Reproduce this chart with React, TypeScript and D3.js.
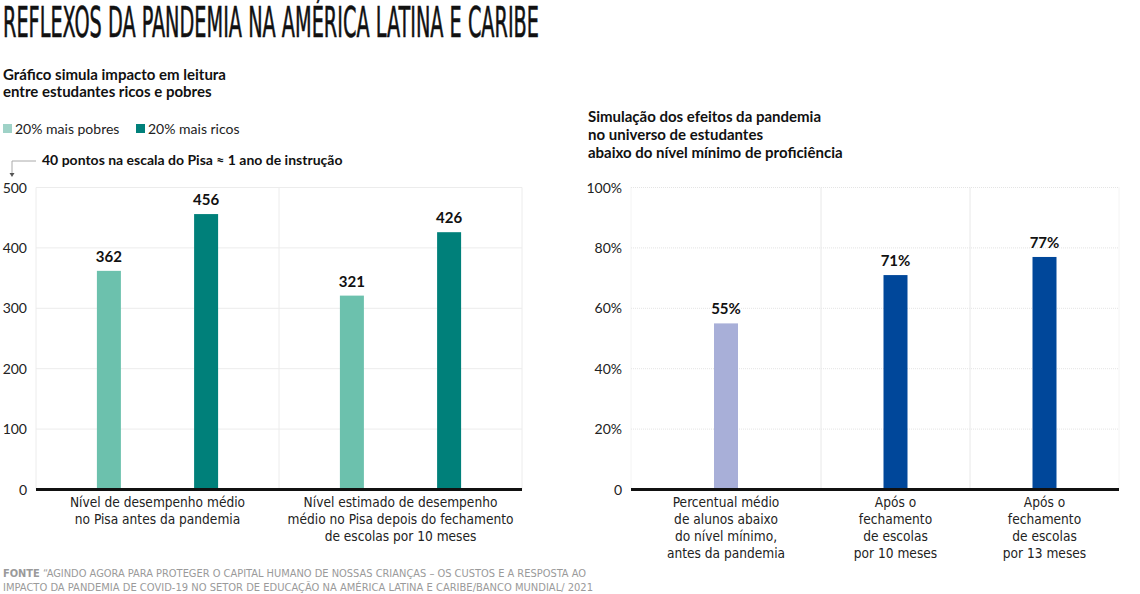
import React from "react";
import * as d3 from "d3";

const leftCategories = [
  ["Nível de desempenho médio", "no Pisa antes da pandemia"],
  ["Nível estimado de desempenho", "médio no Pisa depois do fechamento", "de escolas por 10 meses"],
];
const seriesNames = ["20% mais pobres", "20% mais ricos"];
const poorValues = [362, 321];
const richValues = [456, 426];
const leftTicks = [0, 100, 200, 300, 400, 500];

const rightCategories = [
  ["Percentual médio", "de alunos abaixo", "do nível mínimo,", "antes da pandemia"],
  ["Após o", "fechamento", "de escolas", "por 10 meses"],
  ["Após o", "fechamento", "de escolas", "por 13 meses"],
];
const rightValues = [55, 71, 77];
const rightTicks = [0, 20, 40, 60, 80, 100];

const C_POOR = "#6cc1ad";
const C_RICH = "#00807a";
const C_BEFORE = "#a8afd8";
const C_AFTER = "#00479a";

const SANS = "Lato, 'Open Sans', sans-serif";
const COND = "'DejaVu Sans Condensed', 'Liberation Sans Narrow', sans-serif";

export default function App() {
  const W = 1140, H = 594;
  const yBase = 489.5, yTop = 187.5;

  // Left chart
  const lx0 = 36, lx1 = 522;
  const yL = d3.scaleLinear().domain([0, 500]).range([yBase, yTop]);
  const xL = d3.scaleBand<number>().domain(d3.range(leftCategories.length)).range([lx0, lx1]);
  const inner = d3.scaleLinear().domain([0, 1]).range([0.3, 0.7]);
  const barW = 24;

  // Right chart
  const xR = d3.scaleLinear().domain([0, 1, 2, 3]).range([631, 821, 970, 1119]);
  const yR = d3.scaleLinear().domain([0, 100]).range([yBase, yTop]);

  const lblStyle = { fontFamily: COND, fontSize: 13.6, fill: "#222" } as const;

  return (
    <svg width={W} height={H} style={{ position: "absolute", left: 0, top: 0, background: "#fff" }}>
      <text x={3} y={37} fontFamily={COND} fontWeight={400} fontSize={42} fill="#111"
        stroke="#111" strokeWidth={0.6}
        textLength={536} lengthAdjust="spacingAndGlyphs">
        REFLEXOS DA PANDEMIA NA AMÉRICA LATINA E CARIBE
      </text>

      {/* Left subtitle */}
      <text fontFamily={SANS} fontWeight={700} fontSize={15} fill="#111">
        <tspan x={3} y={80}>Gráfico simula impacto em leitura</tspan>
        <tspan x={3} y={97}>entre estudantes ricos e pobres</tspan>
      </text>

      {/* Legend */}
      {seriesNames.map((s, i) => {
        const x = i === 0 ? 3 : 136;
        return (
          <g key={s}>
            <rect x={x} y={124} width={9} height={9} fill={i === 0 ? "#9fd2c7" : C_RICH} />
            <text x={x + 12} y={133.5} fontFamily={SANS} fontSize={14} fill="#222">{s}</text>
          </g>
        );
      })}

      {/* Annotation */}
      <path d="M36,161 H12 V175" fill="none" stroke="#aaa" strokeWidth={1} />
      <path d="M9.5,173 L12,177 L14.5,173 Z" fill="#555" />
      <text x={42} y={165} fontFamily={SANS} fontWeight={700} fontSize={14} fill="#111">
        40 pontos na escala do Pisa ≈ 1 ano de instrução
      </text>

      {/* Left grid */}
      {leftTicks.filter(t => t > 0).map(t => (
        <line key={t} x1={lx0} x2={lx1} y1={yL(t)} y2={yL(t)} stroke="#ececec" />
      ))}
      {[lx0, lx0 + xL.bandwidth(), lx1].map((x, i) => (
        <line key={i} x1={x} x2={x} y1={yTop} y2={yBase} stroke="#ececec" />
      ))}
      {leftTicks.map(t => (
        <text key={t} x={27} y={yL(t) + 5} textAnchor="end" fontFamily={SANS} fontSize={14} fill="#222">{t}</text>
      ))}

      {/* Left bars */}
      {leftCategories.map((cat, i) => {
        const bx = xL(i)!;
        const bw = xL.bandwidth();
        return (
          <g key={i}>
            {[poorValues[i], richValues[i]].map((v, j) => {
              const cx = bx + inner(j) * bw;
              return (
                <g key={j}>
                  <rect x={cx - barW / 2} y={yL(v)} width={barW} height={yBase - yL(v)} fill={j === 0 ? C_POOR : C_RICH} />
                  <text x={cx} y={yL(v) - 9} textAnchor="middle" fontFamily={SANS} fontWeight={700} fontSize={15} fill="#111">{v}</text>
                </g>
              );
            })}
            <text textAnchor="middle" {...lblStyle}>
              {cat.map((l, k) => (
                <tspan key={k} x={bx + bw / 2} y={507 + k * 17}>{l}</tspan>
              ))}
            </text>
          </g>
        );
      })}
      <line x1={lx0} x2={lx1} y1={yBase} y2={yBase} stroke="#111" strokeWidth={3} />

      {/* Right subtitle */}
      <text fontFamily={SANS} fontWeight={700} fontSize={15} fill="#111">
        <tspan x={588} y={122}>Simulação dos efeitos da pandemia</tspan>
        <tspan x={588} y={140}>no universo de estudantes</tspan>
        <tspan x={588} y={158}>abaixo do nível mínimo de proficiência</tspan>
      </text>

      {/* Right grid */}
      {rightTicks.filter(t => t > 0).map(t => (
        <line key={t} x1={xR(0)} x2={xR(3)} y1={yR(t)} y2={yR(t)} stroke="#e4e4e4" strokeDasharray="1,1" />
      ))}
      {[0, 1, 2, 3].map(i => (
        <line key={i} x1={xR(i)} x2={xR(i)} y1={yTop} y2={yBase} stroke="#e8e8e8" strokeDasharray={i === 1 || i === 2 ? undefined : "1,1"} />
      ))}
      {rightTicks.map(t => (
        <text key={t} x={622} y={yR(t) + 5} textAnchor="end" fontFamily={SANS} fontSize={14} fill="#222">{t === 0 ? "0" : `${t}%`}</text>
      ))}

      {rightCategories.map((cat, i) => {
        const cx = xR(i + 0.5);
        const v = rightValues[i];
        return (
          <g key={i}>
            <rect x={cx - barW / 2} y={yR(v)} width={barW} height={yBase - yR(v)} fill={i === 0 ? C_BEFORE : C_AFTER} />
            <text x={cx} y={yR(v) - 9} textAnchor="middle" fontFamily={SANS} fontWeight={700} fontSize={15} fill="#111">{v}%</text>
            <text textAnchor="middle" {...lblStyle}>
              {cat.map((l, k) => (
                <tspan key={k} x={cx} y={507 + k * 17}>{l}</tspan>
              ))}
            </text>
          </g>
        );
      })}
      <line x1={xR(0)} x2={xR(3)} y1={yBase} y2={yBase} stroke="#111" strokeWidth={3} />

      {/* Footer */}
      <text x={3} y={577} fontFamily={COND} fontSize={11} fill="#9a9a9a" textLength={583} lengthAdjust="spacingAndGlyphs">
        <tspan fontWeight={700}>FONTE</tspan> “AGINDO AGORA PARA PROTEGER O CAPITAL HUMANO DE NOSSAS CRIANÇAS – OS CUSTOS E A RESPOSTA AO
      </text>
      <text x={3} y={591} fontFamily={COND} fontSize={11} fill="#9a9a9a" textLength={590} lengthAdjust="spacingAndGlyphs">
        IMPACTO DA PANDEMIA DE COVID-19 NO SETOR DE EDUCAÇÃO NA AMÉRICA LATINA E CARIBE/BANCO MUNDIAL/ 2021
      </text>
    </svg>
  );
}
